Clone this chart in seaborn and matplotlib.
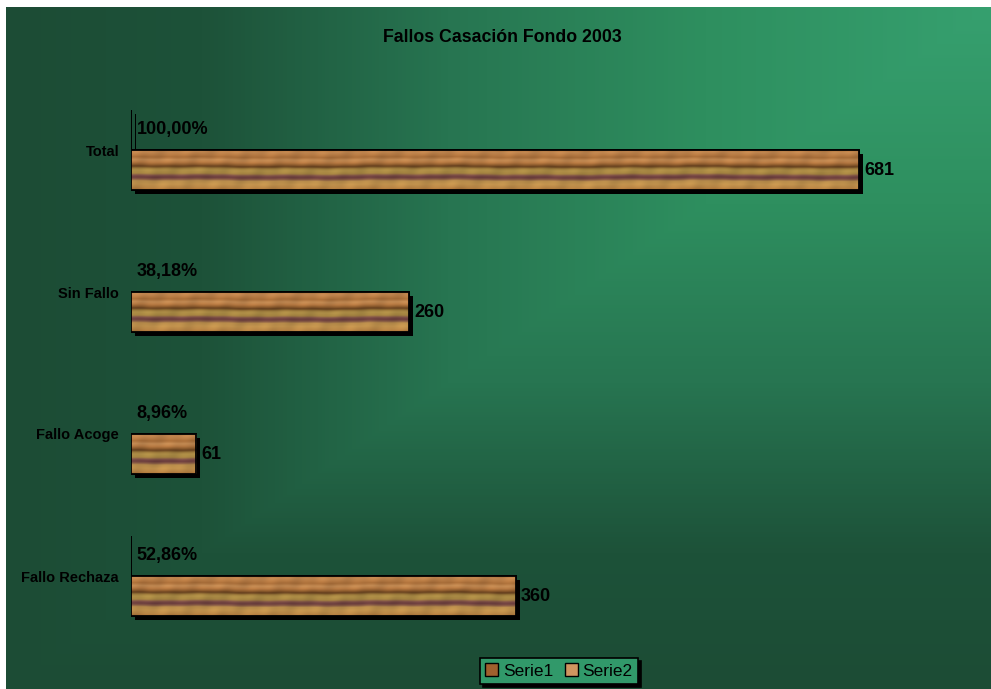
import numpy as np
import pandas as pd
import matplotlib
matplotlib.use("Agg")
import matplotlib.pyplot as plt
import seaborn as sns
from matplotlib import patheffects as pe
from matplotlib.colors import LinearSegmentedColormap, to_rgb
from matplotlib.patches import Rectangle, Patch

# ---------------- data ----------------
categories = ["Total", "Sin Fallo", "Fallo Acoge", "Fallo Rechaza"]
series_names = ["Serie1", "Serie2"]
serie1 = [1.0, 0.3818, 0.0896, 0.5286]
serie2 = [681, 260, 61, 360]
serie1_labels = [f"{v * 100:.2f}%".replace(".", ",") for v in serie1]
serie2_labels = [str(v) for v in serie2]
title = "Fallos Casación Fondo 2003"

df = pd.DataFrame({
    "categoria": categories * 2,
    "serie": [series_names[0]] * len(categories) + [series_names[1]] * len(categories),
    "valor": serie1 + serie2,
})

sns.set_theme(style="white")
plt.rcParams["font.family"] = ["Liberation Sans", "DejaVu Sans"]

W, H = 991, 689
fig = plt.figure(figsize=(W / 100, H / 100), dpi=100)
fig.patch.set_facecolor("white")

# ---------------- gradient background ----------------
bg = fig.add_axes([0, 0, 1, 1])
yy, xx = np.mgrid[0:H, 0:W] + 0.5
t = np.maximum((W - xx) / (W - 6), (yy - 7) / (H - 7))
t = np.clip(t, 0, 1)
cmap = LinearSegmentedColormap.from_list(
    "grad",
    [(0.0, "#36a06f"), (0.29, "#2e8f5f"), (0.55, "#277551"),
     (0.8, "#1d5239"), (1.0, "#1c4c35")])
img = cmap(t)
mask = (xx < 6) | (yy < 7)
img[mask] = (1, 1, 1, 1)
bg.imshow(img, extent=[0, W, H, 0], aspect="auto", interpolation="nearest")
bg.set_xlim(0, W)
bg.set_ylim(H, 0)
bg.axis("off")

# ---------------- main axes ----------------
ax = fig.add_axes([131 / W, 42 / H, 855 / W, 568 / H])
ax.set_zorder(1)
ax.patch.set_alpha(0)

sns.barplot(data=df, y="categoria", x="valor", hue="serie", order=categories,
            hue_order=series_names, palette={"Serie1": "#000000", "Serie2": "#b67c44"},
            width=0.5634, orient="h", ax=ax, edgecolor="black", linewidth=1.3,
            legend=False, saturation=1)

ax.set_xlim(0, 800)
ax.set_ylim(3.5, -0.5)


def wood_texture(nx, ny=40):
    x = np.arange(nx)[None, :]
    v = (np.arange(ny)[:, None] + 0.5) / ny
    warp = (0.008 * np.sin(2 * np.pi * x / 260 + 0.7)
            + 0.005 * np.sin(2 * np.pi * x / 83 + 2.1)
            + 0.003 * np.sin(2 * np.pi * x / 29))
    vv = np.clip(v + warp, 0, 1)
    nodes = [0.00, 0.08, 0.14, 0.20, 0.27, 0.33, 0.39, 0.43, 0.47, 0.52,
             0.60, 0.64, 0.69, 0.74, 0.78, 0.86, 0.94, 1.00]
    cols = ["#ad7036", "#c08650", "#b67a43", "#a66c38", "#c28a53", "#b67942",
            "#88582b", "#623d1d", "#987639", "#ae8e47", "#a48340", "#825548",
            "#683a3c", "#835744", "#b58a4a", "#c1924d", "#b98646", "#a97036"]
    rgbs = np.array([to_rgb(c) for c in cols])
    out = np.zeros((ny, nx, 3))
    for k in range(3):
        out[..., k] = np.interp(vv, nodes, rgbs[:, k])
    shade = (1 + 0.04 * np.sin(2 * np.pi * x / 47 + 11 * v)
             + 0.025 * np.sin(2 * np.pi * x / 17 + 3 * v))
    return np.clip(out * shade[..., None], 0, 1)


px_per_unit = 855 / 800
shadow = [pe.SimplePatchShadow(offset=(2.8, -2.8), shadow_rgbFace="black", alpha=1),
          pe.Normal()]
for ci, cont in enumerate(ax.containers):
    for bar in cont:
        bar.set_path_effects(shadow)
        if ci == 0:
            bar.set_linewidth(0)
        if ci == 1:
            x0, y0 = bar.get_x(), bar.get_y()
            w, h = bar.get_width(), bar.get_height()
            nx = max(int(w * px_per_unit), 2)
            tex = wood_texture(nx)
            im = ax.imshow(tex, extent=[x0, x0 + w, y0 + h, y0], aspect="auto",
                           interpolation="bilinear", zorder=1.5)
            im.set_clip_path(bar)
            ax.add_patch(Rectangle((x0, y0), w, h, fill=False, edgecolor="black",
                                   linewidth=1.3, zorder=2))

ax.bar_label(ax.containers[0], labels=serie1_labels, padding=3.8,
             fontsize=13, fontweight="bold", color="black")
ax.bar_label(ax.containers[1], labels=serie2_labels, padding=3.8,
             fontsize=13, fontweight="bold", color="black")

ax.set_xlim(0, 800)
ax.set_ylim(3.5, -0.5)
ax.set_aspect("auto")
ax.set_xlabel("")
ax.set_ylabel("")
ax.set_xticks([])
ax.tick_params(axis="y", length=0, pad=8.6, labelsize=10.5, colors="black")
for lbl in ax.get_yticklabels():
    lbl.set_fontweight("bold")
for s in ax.spines.values():
    s.set_visible(False)

fig.text(502 / W, 1 - 37 / H, title, ha="center", va="center",
         fontsize=12.8, fontweight="bold", color="black")

handles = [Patch(facecolor="#a0602e", edgecolor="black", linewidth=1),
           Patch(facecolor="#d09660", edgecolor="black", linewidth=1)]
leg = fig.legend(handles, series_names, loc="center",
                 bbox_to_anchor=(559 / W, 1 - 671 / H), ncol=2, frameon=True,
                 fancybox=False, shadow={"color": "black", "alpha": 1},
                 facecolor="#31996a", edgecolor="black", framealpha=1,
                 fontsize=12.5, handlelength=0.75, handleheight=0.75,
                 handletextpad=0.25, columnspacing=0.7, borderpad=0.3,
                 borderaxespad=0)
leg.get_frame().set_linewidth(1.2)
for txt in leg.get_texts():
    txt.set_color("black")

fig.savefig("out.png", dpi=100)
